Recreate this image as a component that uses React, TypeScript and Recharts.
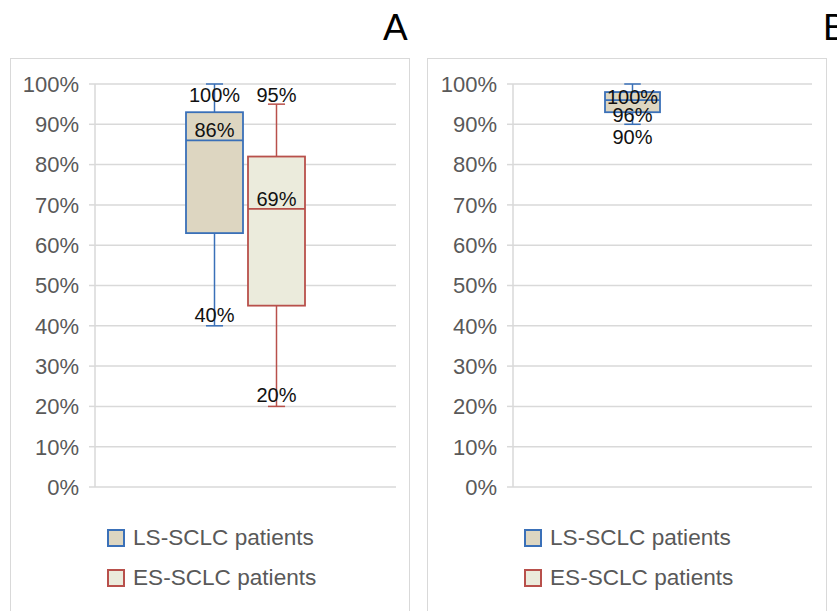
import { BarChart, Bar, XAxis, YAxis, CartesianGrid } from 'recharts';

const seriesNames = ['LS-SCLC patients', 'ES-SCLC patients'];
const yTicks = [0, 10, 20, 30, 40, 50, 60, 70, 80, 90, 100];

// box stats in %: min, q1, median, q3, max
const lsA = [40, 63, 86, 93, 100];
const esA = [20, 45, 69, 82, 95];
const lsB = [90, 93, 96, 98, 100];
const esB: number[] | null = null;

// which stats get a value label (min, median, max)
const labelIdx = [0, 2, 4];

const FONT = '"Liberation Sans", Arial, sans-serif';
const GRID = '#d9d9d9';
const STROKES = ['#3a70b8', '#b8504b'];
const FILLS = ['#ddd6c1', '#ebebdc'];

function boxShape(stats: number[] | null, idx: number, dys: number[]) {
  return (props: any) => {
    const { x, y, width, height } = props;
    if (!stats || y == null || height == null) return <g />;
    const top = Math.min(y, y + height);
    const h = Math.abs(height);
    const [min, q1, med, q3, max] = stats;
    const py = (v: number) => top + ((max - v) / (max - min)) * h;
    const cx = x + width / 2;
    const cap = width * 0.3;
    const stroke = STROKES[idx];
    return (
      <g>
        <line x1={cx} x2={cx} y1={py(max)} y2={py(q3)} stroke={stroke} strokeWidth={1.5} />
        <line x1={cx} x2={cx} y1={py(q1)} y2={py(min)} stroke={stroke} strokeWidth={1.5} />
        <line x1={cx - cap / 2} x2={cx + cap / 2} y1={py(max)} y2={py(max)} stroke={stroke} strokeWidth={1.5} />
        <line x1={cx - cap / 2} x2={cx + cap / 2} y1={py(min)} y2={py(min)} stroke={stroke} strokeWidth={1.5} />
        <rect x={x} y={py(q3)} width={width} height={py(q1) - py(q3)} fill={FILLS[idx]} stroke={stroke} strokeWidth={1.8} />
        <line x1={x} x2={x + width} y1={py(med)} y2={py(med)} stroke={stroke} strokeWidth={1.8} />
        {labelIdx.map((k, i) => (
          <text
            key={k}
            x={cx}
            y={py(stats[k]) + dys[i]}
            textAnchor="middle"
            dominantBaseline="central"
            fontSize={20}
            fontFamily={FONT}
            fill="#111"
          >
            {`${stats[k]}%`}
          </text>
        ))}
      </g>
    );
  };
}

function Panel({
  left,
  title,
  titleLeft,
  ls,
  es,
  dys,
  axisWidth,
  marginRight,
  barSize,
}: {
  left: number;
  title: string;
  titleLeft: number;
  ls: number[] | null;
  es: number[] | null;
  dys: number[][];
  axisWidth: number;
  marginRight: number;
  barSize: number;
}) {
  const data = [
    {
      name: title,
      ls: ls ? [ls[0], ls[4]] : null,
      es: es ? [es[0], es[4]] : null,
    },
  ];
  const series = [ls, es];
  return (
    <>
      <div
        style={{
          position: 'absolute',
          left: titleLeft,
          top: 9,
          fontFamily: FONT,
          fontSize: 37,
          lineHeight: '37px',
          color: '#000',
        }}
      >
        {title}
      </div>
      <div
        style={{
          position: 'absolute',
          left,
          top: 58,
          width: 398,
          height: 600,
          border: `1.5px solid ${GRID}`,
        }}
      />
      <div style={{ position: 'absolute', left, top: 58 }}>
        <BarChart
          width={400}
          height={460}
          data={data}
          margin={{ top: 26, right: marginRight, bottom: 31, left: 0 }}
          barSize={barSize}
          barGap={5}
        >
          <CartesianGrid vertical={false} stroke={GRID} strokeWidth={1.5} />
          <XAxis dataKey="name" hide />
          <YAxis
            width={axisWidth}
            domain={[0, 100]}
            ticks={yTicks}
            interval={0}
            tickFormatter={(v) => `${v}%`}
            axisLine={{ stroke: GRID, strokeWidth: 1.5 }}
            tickLine={{ stroke: GRID, strokeWidth: 1.5 }}
            tickSize={6}
            tickMargin={10}
            tick={{ fill: '#595959', fontSize: 22, fontFamily: FONT }}
          />
          {['ls', 'es'].map((key, i) => (
            <Bar
              key={key}
              dataKey={key}
              name={seriesNames[i]}
              isAnimationActive={false}
              shape={boxShape(series[i], i, dys[i])}
            />
          ))}
        </BarChart>
      </div>
      {seriesNames.map((n, i) => (
        <div
          key={n}
          style={{
            position: 'absolute',
            left: left + 97,
            top: 527 + i * 40,
            display: 'flex',
            alignItems: 'center',
            fontFamily: FONT,
            fontSize: 22.6,
            color: '#595959',
            height: 22,
            whiteSpace: 'nowrap',
          }}
        >
          <span
            style={{
              width: 14,
              height: 14,
              background: FILLS[i],
              border: `2px solid ${STROKES[i]}`,
              marginRight: 8,
              display: 'inline-block',
            }}
          />
          {n}
        </div>
      ))}
    </>
  );
}

export default function App() {
  return (
    <div
      style={{
        position: 'absolute',
        left: 0,
        top: 0,
        width: 837,
        height: 611,
        overflow: 'hidden',
        background: '#fff',
      }}
    >
      <Panel
        left={10}
        title="A"
        titleLeft={383}
        ls={lsA}
        es={esA}
        dys={[
          [-11, -10, 11],
          [-11, -10, -9],
        ]}
        axisWidth={85}
        marginRight={14}
        barSize={57}
      />
      <Panel
        left={427}
        title="B"
        titleLeft={823}
        ls={lsB}
        es={esB}
        dys={[[13, 15, 13], []]}
        axisWidth={86}
        marginRight={15}
        barSize={55}
      />
    </div>
  );
}
